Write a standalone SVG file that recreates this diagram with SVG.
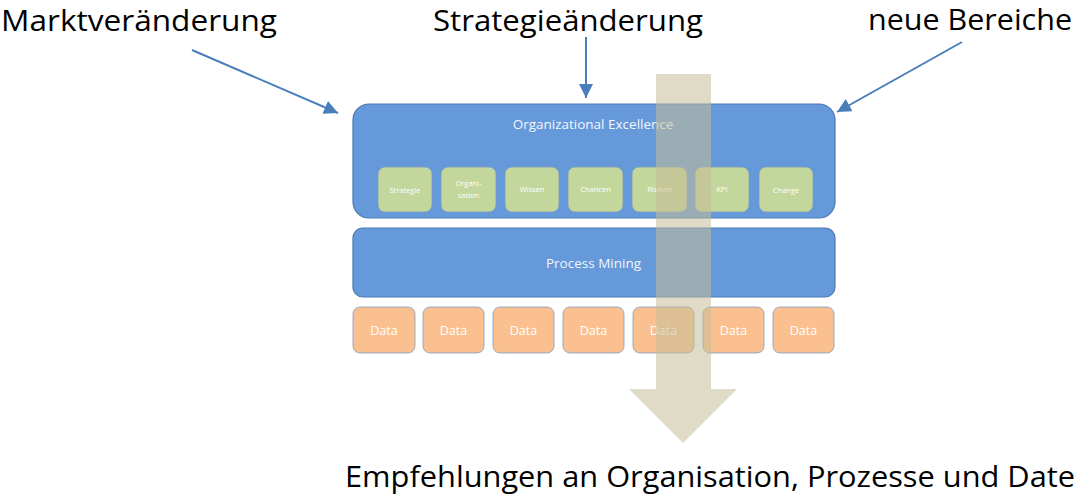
<svg xmlns="http://www.w3.org/2000/svg" width="1077" height="495" viewBox="0 0 1077 495">
<style>
.big{font-family:"Open Sans","Liberation Sans",sans-serif;font-size:30px;fill:#000}
.panel{fill:#6699DA;stroke:#4A78B5;stroke-width:1.2}
.ptxt{font-family:"Open Sans","Liberation Sans",sans-serif;font-size:13.5px;fill:#fff;text-anchor:middle;opacity:0.92}
.gbox{fill:#C3D69B;stroke:#7F9CC0;stroke-width:0.8}
.gtxt{font-family:"Open Sans","Liberation Sans",sans-serif;font-size:7.5px;fill:#fff;text-anchor:middle}
.dbox{fill:#FAC090;stroke:#7F9CC0;stroke-width:0.8}
.dtxt{font-family:"Open Sans","Liberation Sans",sans-serif;font-size:12.5px;fill:#fff;text-anchor:middle}
.conn{stroke:#4A7EBB;stroke-width:2;fill:none}
</style>
<defs>
<marker id="ah" viewBox="0 0 10 10" refX="10" refY="5" markerWidth="7" markerHeight="7" markerUnits="strokeWidth" orient="auto">
<path d="M0,0 L10,5 L0,10 z" fill="#4A7EBB"/>
</marker>
</defs>
<g id="label-markt"><text class="big" x="1" y="30.5" textLength="276" lengthAdjust="spacingAndGlyphs">Marktveränderung</text></g>
<g id="label-strategie"><text class="big" x="433" y="30.5" textLength="270" lengthAdjust="spacingAndGlyphs">Strategieänderung</text></g>
<g id="label-neue"><text class="big" x="868" y="30" textLength="204" lengthAdjust="spacingAndGlyphs">neue Bereiche</text></g>
<g id="connectors">
<line class="conn" x1="192" y1="50" x2="338" y2="113" marker-end="url(#ah)"/>
<line class="conn" x1="586" y1="37" x2="586" y2="98" marker-end="url(#ah)"/>
<line class="conn" x1="962" y1="42" x2="837" y2="112" marker-end="url(#ah)"/>
</g>
<g id="org-excellence">
<rect class="panel" x="353" y="104" width="482" height="114" rx="16"/>
<text class="ptxt" x="593" y="129">Organizational Excellence</text>
</g>
<g id="n-strategie"><rect class="gbox" x="378" y="167" width="54" height="45" rx="7"/><text class="gtxt" x="405" y="193">Strategie</text></g>
<g id="n-organisation"><rect class="gbox" x="441" y="167" width="55" height="45" rx="7"/><text class="gtxt" x="468.5" y="186">Organi-</text><text class="gtxt" x="468.5" y="198">sation</text></g>
<g id="n-wissen"><rect class="gbox" x="505" y="167" width="54" height="45" rx="7"/><text class="gtxt" x="532" y="192">Wissen</text></g>
<g id="n-chancen"><rect class="gbox" x="568" y="167" width="55" height="45" rx="7"/><text class="gtxt" x="595.5" y="192">Chancen</text></g>
<g id="n-risiken"><rect class="gbox" x="632" y="167" width="55" height="45" rx="7"/><text class="gtxt" x="659.5" y="192">Risiken</text></g>
<g id="n-kpi"><rect class="gbox" x="695" y="167" width="54" height="45" rx="7"/><text class="gtxt" x="722" y="192">KPI</text></g>
<g id="n-change"><rect class="gbox" x="759" y="167" width="54" height="45" rx="7"/><text class="gtxt" x="786" y="193">Change</text></g>
<g id="process-mining">
<rect class="panel" x="353" y="228" width="482" height="69" rx="10"/>
<text class="ptxt" x="593.5" y="268">Process Mining</text>
</g>
<g id="data-1"><rect class="dbox" x="353" y="307" width="62" height="46" rx="7"/><text class="dtxt" x="384" y="335">Data</text></g>
<g id="data-2"><rect class="dbox" x="423" y="307" width="61" height="46" rx="7"/><text class="dtxt" x="453.5" y="335">Data</text></g>
<g id="data-3"><rect class="dbox" x="493" y="307" width="61" height="46" rx="7"/><text class="dtxt" x="523.5" y="335">Data</text></g>
<g id="data-4"><rect class="dbox" x="563" y="307" width="61" height="46" rx="7"/><text class="dtxt" x="593.5" y="335">Data</text></g>
<g id="data-5"><rect class="dbox" x="633" y="307" width="61" height="46" rx="7"/><text class="dtxt" x="663.5" y="335">Data</text></g>
<g id="data-6"><rect class="dbox" x="703" y="307" width="61" height="46" rx="7"/><text class="dtxt" x="733.5" y="335">Data</text></g>
<g id="data-7"><rect class="dbox" x="773" y="307" width="61" height="46" rx="7"/><text class="dtxt" x="803.5" y="335">Data</text></g>
<g id="big-arrow">
<path d="M656,74 L711,74 L711,389 L737,389 L683,443 L629,389 L656,389 Z" fill="#C4BD97" opacity="0.55"/>
</g>
<g id="label-empfehlungen"><text class="big" x="345" y="487" font-size="31" textLength="730" lengthAdjust="spacingAndGlyphs">Empfehlungen an Organisation, Prozesse und Date</text></g>
</svg>
